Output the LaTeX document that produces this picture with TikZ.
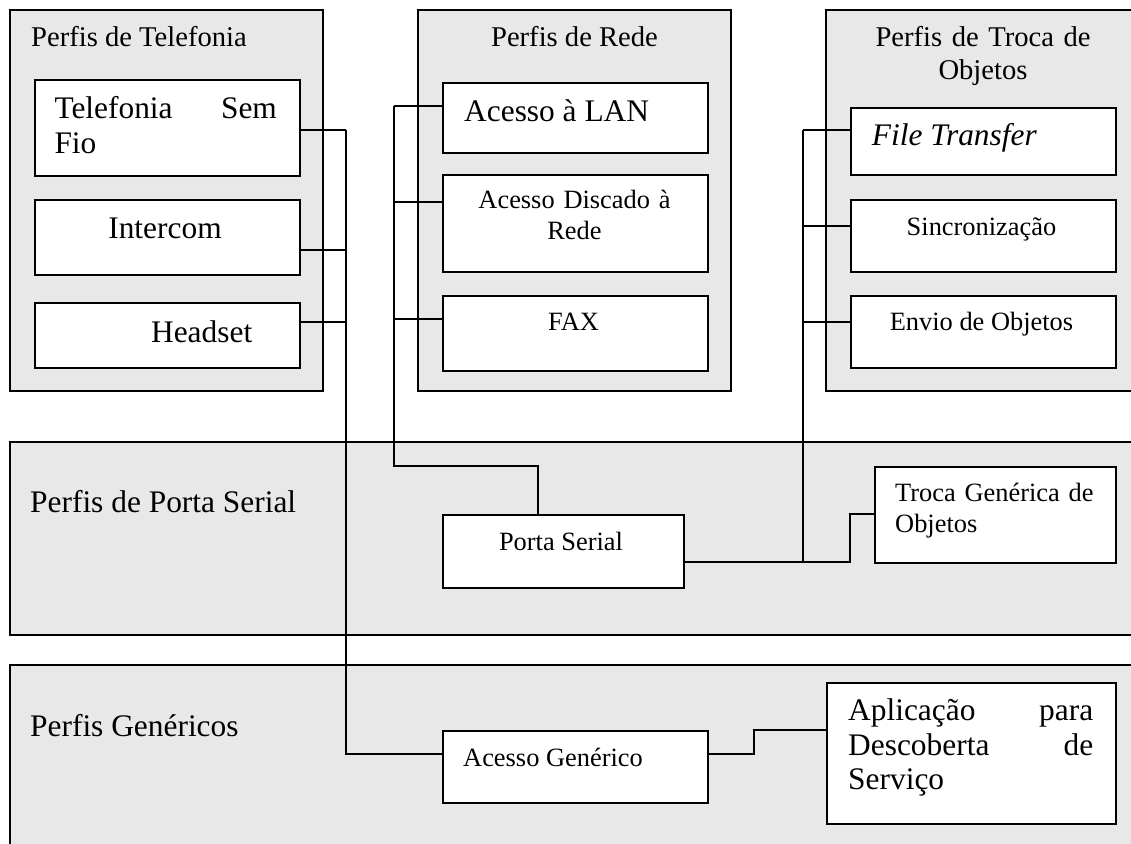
\documentclass[tikz,border=0pt]{standalone}
\usepackage{fontspec}
\setmainfont{Liberation Serif}
\definecolor{panelgray}{RGB}{232,232,232}
\begin{document}
\begin{tikzpicture}[x=1pt,y=-1pt,
  panel/.style={draw=black, line width=1.8pt, fill=panelgray},
  box/.style={draw=black, line width=1.8pt, fill=white, inner sep=0pt,
    anchor=north west},
  wire/.style={draw=black, line width=1.8pt},
  txt/.style={inner sep=0pt, text=black},
  big/.style={txt, font=\fontsize{31.4}{35}\selectfont},
  ttl/.style={txt, font=\fontsize{28.6}{33}\selectfont},
  sml/.style={txt, font=\fontsize{26.4}{31}\selectfont}]
\useasboundingbox (0,0) rectangle (1131,843);

% --- profile groups (top row) and layer bands
\filldraw[panel] (10,10) rectangle (323,391);
\filldraw[panel] (418,10) rectangle (731,391);
\filldraw[panel] (826,10) rectangle (1145,391);
\filldraw[panel] (10,442) rectangle (1145,635);
\filldraw[panel] (10,665) rectangle (1145,860);

% --- group and band titles
\node[ttl, anchor=base west] (tTel) at (31,46.7) {Perfis de Telefonia};
\node[ttl, anchor=base] (tRede) at (574.5,46.7) {Perfis de Rede};
\node[ttl, anchor=base, text width=260pt, align=center] (tObj) at (983,46.7)
  {Perfis de Troca de\\Objetos};
\node[big, anchor=base west] (tSerial) at (30,512.7) {Perfis de Porta Serial};
\node[big, anchor=base west] (tGen) at (30,736) {Perfis Genéricos};

% --- bus junction points
\coordinate (telBus) at (346,130);
\coordinate (redeBus) at (394,106);
\coordinate (objBus) at (802.7,130);

% telephony boxes
\node[box, minimum width=264.7pt, minimum height=96pt] (sfio) at (34.3,79.3) {};
\node[box, minimum width=264.7pt, minimum height=74.7pt] (icom) at (34.3,199.3) {};
\node[box, minimum width=264.7pt, minimum height=65.6pt] (hset) at (34.3,301.7) {};
% network boxes
\node[box, minimum width=264.4pt, minimum height=70pt] (lan) at (442.3,81.7) {};
\node[box, minimum width=264.4pt, minimum height=96.7pt] (dial) at (442.3,174.3) {};
\node[box, minimum width=264.4pt, minimum height=75pt] (fax) at (442.3,295) {};
% object exchange boxes
\node[box, minimum width=265pt, minimum height=67.6pt] (ftp) at (850,106.7) {};
\node[box, minimum width=265pt, minimum height=71.4pt] (sync) at (850,199.3) {};
\node[box, minimum width=265pt, minimum height=71.7pt] (push) at (850,295) {};
% serial port layer
\node[box, minimum width=241pt, minimum height=73pt] (ps) at (442,514) {};
\node[box, minimum width=241pt, minimum height=96pt] (goep) at (874,466) {};
% generic layer
\node[box, minimum width=265pt, minimum height=72pt] (gap) at (442,730) {};
\node[box, minimum width=289pt, minimum height=141pt] (sdap) at (826,682) {};

% telephony bus down to generic access
\draw[wire] (sfio.east |- telBus) -- (telBus);
\draw[wire] (icom.east |- 0,250) -- (telBus |- 0,250);
\draw[wire] (hset.east |- 0,321.7) -- (telBus |- 0,321.7);
\draw[wire] (telBus) -- (telBus |- 0,754) -- (gap.west |- 0,754);
% network bus down to serial port
\draw[wire] (lan.west |- redeBus) -- (redeBus);
\draw[wire] (dial.west |- 0,201.7) -- (redeBus |- 0,201.7);
\draw[wire] (fax.west |- 0,319) -- (redeBus |- 0,319);
\draw[wire] (redeBus) -- (redeBus |- 0,466) -- (538,466) -- (ps.north -| 538,0);
% object exchange bus down to the serial port link
\draw[wire] (ftp.west |- objBus) -- (objBus);
\draw[wire] (sync.west |- 0,225.7) -- (objBus |- 0,225.7);
\draw[wire] (push.west |- 0,321.7) -- (objBus |- 0,321.7);
\draw[wire] (objBus) -- (objBus |- 0,562);
% serial port to generic object exchange
\draw[wire] (ps.east |- 0,562) -- (850,562) -- (850,514) -- (goep.west |- 0,514);
% generic access to service discovery
\draw[wire] (gap.east |- 0,754) -- (754,754) -- (754,730) -- (sdap.west |- 0,730);

% --- box texts
\node[big, anchor=base west, text width=222.4pt, align=left] (xSfio) at (54.3,118)
  {Telefonia\hfill Sem\\Fio};
\node[big, anchor=base] (xIcom) at (165,238) {Intercom};
\node[big, anchor=base] (xHset) at (201.7,342) {Headset};
\node[big, anchor=base west] (xLan) at (464,121.7) {Acesso à LAN};
\node[sml, anchor=base, text width=240pt, align=center] (xDial) at (574.5,208.3)
  {Acesso Discado à\\Rede};
\node[sml, anchor=base] (xFax) at (573.5,330) {FAX};
\node[big, anchor=base west] (xFtp) at (871.7,145) {\itshape File Transfer};
\node[sml, anchor=base] (xSync) at (981.5,235) {Sincronização};
\node[sml, anchor=base] (xPush) at (981.5,330) {Envio de Objetos};
\node[sml, anchor=base] (xPs) at (561,550) {Porta Serial};
\node[sml, anchor=base west, text width=215pt, align=left] (xGoep) at (895,501)
  {Troca Genérica de\\Objetos};
\node[sml, anchor=base west] (xGap) at (463,766) {Acesso Genérico};
\node[big, anchor=base west, text width=245pt, align=left,
  font=\fontsize{31.4}{34.3}\selectfont] (xSdap) at (848,720.7)
  {Aplicação\hfill para\\Descoberta\hfill de\\Serviço};
\end{tikzpicture}
\end{document}
